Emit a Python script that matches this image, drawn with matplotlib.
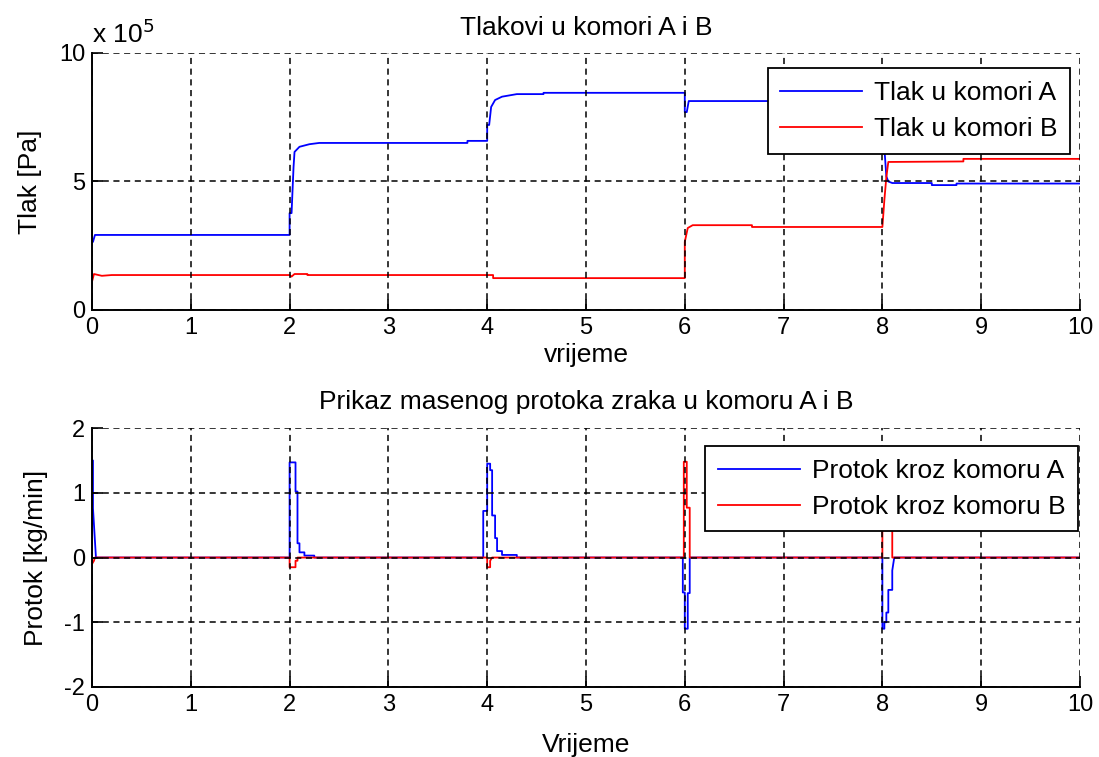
import matplotlib
matplotlib.use("Agg")
import matplotlib.pyplot as plt

plt.rcParams['font.family'] = ['Liberation Sans', 'DejaVu Sans']
plt.rcParams['axes.unicode_minus'] = False

# ---- Data: pressures (x 1e5 Pa) ----
tA = [0.0, 0.0, 0.01, 0.03, 0.05, 2.0, 2.0, 2.02, 2.03, 2.04, 2.05, 2.1, 2.2, 2.3, 3.8, 3.8, 4.0,
      4.0, 4.02, 4.04, 4.08, 4.15, 4.3, 4.57, 4.57, 6.0, 6.0, 6.02, 6.04, 8.0, 8.02, 8.04, 8.06, 8.1,
      8.5, 8.5, 8.75, 8.75, 10.0]
pA = [7.6, 2.65, 2.65, 2.92, 2.92, 2.92, 3.77, 3.77, 4.67, 5.56, 6.15, 6.35, 6.45, 6.5, 6.5, 6.58, 6.58,
      7.2, 7.2, 7.9, 8.17, 8.3, 8.4, 8.4, 8.45, 8.45, 7.7, 7.7, 8.13, 8.13, 6.3, 5.2, 5.0, 4.94,
      4.94, 4.86, 4.86, 4.92, 4.92]

tB = [0.0, 0.0, 0.02, 0.1, 0.2, 2.0, 2.02, 2.05, 2.18, 2.18, 4.06, 4.06, 6.0, 6.0, 6.03, 6.08,
      6.68, 6.68, 8.0, 8.02, 8.04, 8.06, 8.82, 8.82, 10.0]
pB = [1.05, 1.1, 1.4, 1.33, 1.36, 1.36, 1.30, 1.40, 1.40, 1.36, 1.36, 1.24, 1.24, 2.65, 3.19, 3.3,
      3.3, 3.23, 3.23, 4.28, 5.17, 5.76, 5.78, 5.88, 5.88]

# ---- Data: mass flow (kg/min) ----
tQA = [0.0, 0.0, 0.01, 0.01, 0.04, 2.0, 2.0, 2.06, 2.06, 2.08, 2.08, 2.1, 2.1, 2.15, 2.15, 2.25, 2.25,
       3.96, 3.96, 4.0, 4.0, 4.03, 4.03, 4.05, 4.05, 4.08, 4.08, 4.1, 4.1, 4.15, 4.15, 4.3, 4.3,
       5.98, 5.98, 6.0, 6.0, 6.03, 6.03, 6.05, 6.05,
       8.0, 8.0, 8.02, 8.02, 8.04, 8.04, 8.06, 8.06, 8.08, 8.08, 8.1, 8.1, 8.12, 10.0]
qA = [0.0, 1.5, 1.5, 0.76, 0.0, 0.0, 1.47, 1.47, 1.02, 1.02, 0.22, 0.22, 0.08, 0.08, 0.03, 0.03, 0.0,
      0.0, 0.72, 0.72, 1.45, 1.45, 1.35, 1.35, 0.65, 0.65, 0.3, 0.3, 0.1, 0.1, 0.04, 0.04, 0.0,
      0.0, -0.54, -0.54, -1.1, -1.1, -0.55, -0.55, 0.0,
      0.0, -1.1, -1.1, -1.0, -1.0, -0.85, -0.85, -0.5, -0.5, -0.5, -0.5, -0.2, 0.0, 0.0]

tQB = [0.0, 0.0, 0.02, 0.03, 2.0, 2.0, 2.06, 2.06, 2.08, 2.08, 4.0, 4.0, 4.03, 4.03, 4.05,
       5.99, 5.99, 6.02, 6.02, 6.05, 6.05, 8.0, 8.0, 8.03, 8.03, 8.1, 8.1, 10.0]
qB = [0.0, -0.1, -0.05, 0.0, 0.0, -0.15, -0.15, -0.05, -0.05, 0.0, 0.0, -0.15, -0.15, -0.05, 0.0,
      0.0, 1.48, 1.48, 0.77, 0.77, 0.0, 0.0, 1.5, 1.5, 1.0, 1.0, 0.0, 0.0]

xticks = list(range(0, 11))
yticks_top = [0, 5, 10]
yticks_bot = [-2, -1, 0, 1, 2]

FS_TICK = 17
FS = 19

fig = plt.figure(figsize=(10.99, 7.57), dpi=100)
ax1 = fig.add_axes([0.0837, 0.5905, 0.899, 0.3395])
ax2 = fig.add_axes([0.0837, 0.0925, 0.899, 0.342])

def style(ax):
    ax.grid(True, color='black', linestyle=(0, (4, 3)), linewidth=1.1)
    ax.set_axisbelow(False)
    for s in ['top', 'right']:
        ax.spines[s].set_visible(False)
    for s in ['left', 'bottom']:
        ax.spines[s].set_linewidth(1.4)
    ax.tick_params(direction='in', length=8, width=1.2, labelsize=FS_TICK, pad=5)
    ax.set_xlim(0, 10)
    ax.set_xticks(xticks)

def legend(ax, anchor):
    leg = ax.legend(loc='upper right', bbox_to_anchor=anchor, fontsize=FS, frameon=True,
                    fancybox=False, edgecolor='black', framealpha=1, handlelength=3.1,
                    handletextpad=0.45, borderpad=0.48, labelspacing=0.45, borderaxespad=0)
    leg.get_frame().set_linewidth(1.3)
    return leg

ax1.plot(tA, pA, color='#0000ff', lw=1.3, label='Tlak u komori A')
ax1.plot(tB, pB, color='#ff0000', lw=1.3, label='Tlak u komori B')
style(ax1)
ax1.set_ylim(0, 10)
ax1.set_yticks(yticks_top)
ax1.set_title('Tlakovi u komori A i B', fontsize=FS, pad=13)
ax1.set_xlabel('vrijeme', fontsize=FS, labelpad=3)
ax1.set_ylabel('Tlak [Pa]', fontsize=FS, labelpad=12)
ax1.text(0.0, 1.02, r'x 10$^{5}$', transform=ax1.transAxes, fontsize=FS, ha='left', va='bottom')
legend(ax1, (0.99, 0.94))

ax2.plot(tQA, qA, color='#0000ff', lw=1.3, label='Protok kroz komoru A')
ax2.plot(tQB, qB, color='#ff0000', lw=1.3, label='Protok kroz komoru B')
style(ax2)
ax2.set_ylim(-2, 2)
ax2.set_yticks(yticks_bot)
ax2.set_title('Prikaz masenog protoka zraka u komoru A i B', fontsize=FS, pad=14)
ax2.set_xlabel('Vrijeme', fontsize=FS, labelpad=12)
ax2.set_ylabel('Protok [kg/min]', fontsize=FS, labelpad=12)
legend(ax2, (0.998, 0.93))

fig.savefig('out.png', dpi=100)
